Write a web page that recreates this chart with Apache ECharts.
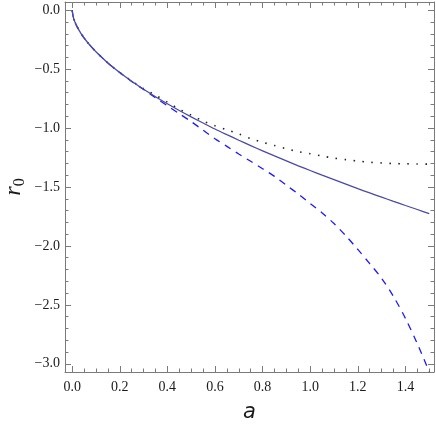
<!DOCTYPE html>
<html lang="en">
<head>
    <meta charset="utf-8">
    <title>r0 vs a</title>
    <style>
        html, body { margin: 0; padding: 0; background: #fff; }
        #id-main-area { width: 436px; height: 424px; }
    </style>
</head>
<body>
    <div id="id-main-area"></div>
    <script src="https://cdn.jsdelivr.net/npm/echarts@6/dist/echarts.min.js"></script>
    <script>
        var log = console.log.bind(console)

        // values
        var aValues = [0, 0.005, 0.01, 0.02, 0.04, 0.06, 0.08, 0.1, 0.15, 0.2,
            0.25, 0.3, 0.35, 0.4, 0.45, 0.5, 0.55, 0.6, 0.65, 0.7, 0.75, 0.8, 0.85, 0.9, 0.95,
            1.0, 1.05, 1.1, 1.15, 1.2, 1.25, 1.3, 1.35, 1.4, 1.45, 1.5]

        var rSolid = [0, -0.061, -0.091, -0.137, -0.206, -0.261, -0.309, -0.352, -0.447, -0.529,
            -0.603, -0.671, -0.734, -0.794, -0.851, -0.905, -0.957, -1.008, -1.056, -1.103, -1.149,
            -1.193, -1.236, -1.278, -1.320, -1.360, -1.400, -1.438, -1.476, -1.514, -1.550, -1.586,
            -1.622, -1.657, -1.691, -1.726]

        var rDashed = [0, -0.061, -0.091, -0.137, -0.206, -0.261, -0.309, -0.352, -0.447, -0.529,
            -0.604, -0.672, -0.742, -0.810, -0.878, -0.945, -1.018, -1.090, -1.155, -1.220, -1.282,
            -1.345, -1.410, -1.485, -1.560, -1.640, -1.720, -1.810, -1.915, -2.030, -2.150, -2.275,
            -2.430, -2.615, -2.830, -3.070]

        var rDotted = [0, -0.061, -0.091, -0.137, -0.206, -0.261, -0.309, -0.352, -0.447, -0.529,
            -0.600, -0.665, -0.720, -0.780, -0.840, -0.890, -0.940, -0.980, -1.015, -1.050, -1.090,
            -1.120, -1.148, -1.175, -1.200, -1.218, -1.237, -1.255, -1.268, -1.280, -1.290, -1.296,
            -1.301, -1.303, -1.305, -1.306]

        var xTicks = [0, 0.2, 0.4, 0.6, 0.8, 1.0, 1.2, 1.4]
        var yTicks = [0, -0.5, -1.0, -1.5, -2.0, -2.5, -3.0]

        var minorTicks = (from, to, step) => {
            var l = []
            var n = Math.round((to - from) / step)
            for (var i = 0; i <= n; i++) {
                l.push(+(from + i * step).toFixed(3))
            }
            return l
        }

        var xMinor = minorTicks(0, 1.5, 0.05)
        var yMinor = minorTicks(-3.0, 0, 0.1)

        var pairs = (xs, ys) => xs.map((x, i) => [x, ys[i]])

        var frameColor = '#7a7a7a'
        var labelFont = 'Liberation Serif'

        var fmt = (v) => {
            var s = Math.abs(v).toFixed(1)
            return v < -1e-9 ? '\u2212' + s : s
        }

        var makeAxis = (kind, position, ticks, tickLen, withLine, withLabel) => {
            var isX = kind === 'x'
            var axis = {
                type: 'value',
                position: position,
                min: isX ? -0.03 : -3.07,
                max: isX ? 1.52 : 0.07,
                axisLine: { show: withLine, onZero: false, lineStyle: { color: frameColor, width: 1 } },
                axisTick: {
                    show: true,
                    inside: true,
                    length: tickLen,
                    customValues: ticks,
                    lineStyle: { color: frameColor, width: 1 }
                },
                axisLabel: {
                    show: withLabel,
                    customValues: ticks,
                    formatter: fmt,
                    margin: isX ? 8 : 5,
                    color: '#1a1a1a',
                    fontFamily: labelFont,
                    fontSize: 14
                },
                splitLine: { show: false }
            }
            return axis
        }

        var showChart = () => {
            var element = document.querySelector('#id-main-area')
            var myChart = echarts.init(element, null, { renderer: 'canvas' })

            var xMain = makeAxis('x', 'bottom', xTicks, 6, true, true)
            xMain.name = 'a'
            xMain.nameLocation = 'middle'
            xMain.nameGap = 30
            xMain.nameMoveOverlap = false
            xMain.nameTextStyle = {
                fontFamily: 'DejaVu Sans',
                fontStyle: 'italic',
                fontSize: 21,
                color: '#1a1a1a'
            }

            var yMain = makeAxis('y', 'left', yTicks, 6, true, true)
            yMain.name = '{r|r}{s|0}'
            yMain.nameLocation = 'middle'
            yMain.nameGap = 37
            yMain.nameMoveOverlap = false
            yMain.nameTextStyle = {
                color: '#1a1a1a',
                rich: {
                    r: { fontFamily: labelFont, fontStyle: 'italic', fontSize: 24, color: '#1a1a1a' },
                    s: { fontFamily: labelFont, fontSize: 16, color: '#1a1a1a', padding: [12, 0, 0, 0] }
                }
            }

            var option = {
                animation: false,
                backgroundColor: '#fff',
                grid: { left: 65, right: 2, top: 2, bottom: 52, outerBoundsMode: 'none' },
                xAxis: [
                    xMain,
                    makeAxis('x', 'bottom', xMinor, 3.5, false, false),
                    makeAxis('x', 'top', xTicks, 6, true, false),
                    makeAxis('x', 'top', xMinor, 3.5, false, false)
                ],
                yAxis: [
                    yMain,
                    makeAxis('y', 'left', yMinor, 3.5, false, false),
                    makeAxis('y', 'right', yTicks, 6, true, false),
                    makeAxis('y', 'right', yMinor, 3.5, false, false)
                ],
                series: [
                    {
                        type: 'line',
                        data: pairs(aValues, rDotted),
                        showSymbol: false,
                        smooth: 0.3,
                        clip: true,
                        lineStyle: { color: '#222', width: 1.6, type: [1.5, 7.5] }
                    },
                    {
                        type: 'line',
                        data: pairs(aValues, rDashed),
                        showSymbol: false,
                        smooth: 0.3,
                        clip: true,
                        lineStyle: { color: '#1a1aff', width: 1.3, type: [7, 6] }
                    },
                    {
                        type: 'line',
                        data: pairs(aValues, rSolid),
                        showSymbol: false,
                        smooth: 0.3,
                        clip: true,
                        lineStyle: { color: '#4a4aa6', width: 1.3 }
                    }
                ]
            }
            myChart.setOption(option, true)
        }

        var __main = () => {
            showChart()
        }

        __main()
    </script>
</body>
</html>
